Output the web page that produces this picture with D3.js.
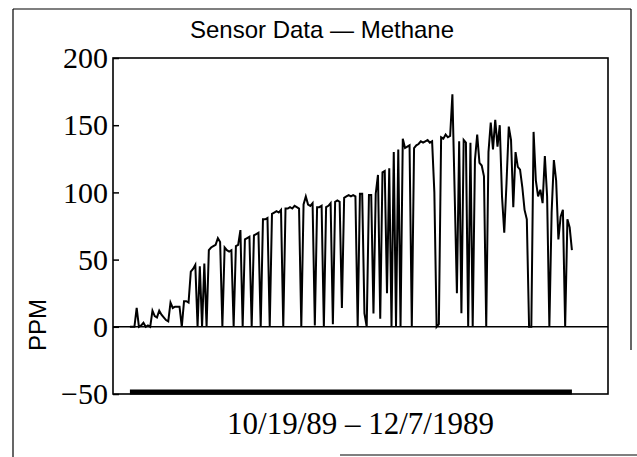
<!DOCTYPE html>
<html>
<head>
<meta charset="utf-8">
<script src="https://cdn.jsdelivr.net/npm/d3@7"></script>
<style>
  html, body { margin: 0; padding: 0; background: #fff; }
  svg { display: block; }
</style>
</head>
<body>
<svg id="chart"></svg>
<script>
// methane readings, one every 6 hours from 10/19/89 to 12/7/89 (0 = dropout)
const startDate = new Date(1989, 9, 19);
const stepHours = 6;
const ppm = [
  0, 0, 0, 14, 0, 1, 3, 0, 1, 0,
  12, 8, 7, 12, 9, 7, 5, 4, 18, 14,
  15, 15, 15, 0, 19, 19, 18, 41, 43, 46,
  0, 45, 0, 47, 0, 57, 59, 60, 61, 66,
  63, 0, 59, 57, 56, 57, 0, 60, 61, 72,
  0, 65, 66, 67, 0, 68, 69, 70, 0, 80,
  80, 81, 0, 84, 85, 86, 85, 87, 0, 88,
  88, 89, 88, 90, 89, 88, 0, 91, 97, 91,
  90, 92, 1, 89, 89, 90, 0, 89, 90, 92,
  2, 93, 94, 93, 14, 96, 97, 98, 97, 98,
  97, 0, 99, 99, 10, 0, 98, 98, 10, 99,
  113, 6, 115, 116, 25, 118, 0, 130, 0, 132,
  0, 140, 133, 134, 135, 0, 133, 135, 136, 138,
  137, 138, 139, 137, 138, 100, 0, 2, 141, 140,
  143, 141, 142, 173, 100, 25, 138, 10, 139, 137,
  0, 137, 0, 124, 143, 122, 120, 112, 0, 130,
  152, 132, 154, 134, 150, 97, 70, 107, 149, 139,
  89, 130, 119, 117, 104, 87, 80, 0, 0, 145,
  109, 97, 102, 92, 127, 97, 0, 85, 124, 109,
  65, 82, 87, 0, 80, 74, 57
];
const data = ppm.map((v, i) => ({ date: d3.timeHour.offset(startDate, i * stepHours), value: v }));

const xDomain = [new Date(1989, 9, 17, 3), new Date(1989, 11, 11)];
const yDomain = [-50, 200];
const yTicks = [-50, 0, 50, 100, 150, 200];
const barValue = -48.5;   // solid bar along the bottom showing the sampled period

const title = "Sensor Data \u2014 Methane";
const yLabel = "PPM";
const xLabel = "10/19/89 \u2013 12/7/1989";

const W = 637, H = 457;
const margin = { top: 58, right: 29, bottom: 63, left: 113 };
const width = W - margin.left - margin.right;
const height = H - margin.top - margin.bottom;

const serif = "'Liberation Serif', 'Times New Roman', serif";
const sans = "'Liberation Sans', Arial, Helvetica, sans-serif";

const svg = d3.select("#chart").attr("width", W).attr("height", H);

// scanned page frame (only partly visible in the original)
const frame = svg.append("g").attr("stroke", "#000").attr("stroke-width", 1.2).attr("fill", "none");
frame.append("line").attr("x1", 13).attr("x2", 13).attr("y1", 9).attr("y2", H);
frame.append("line").attr("x1", 13).attr("x2", 631).attr("y1", 9).attr("y2", 9);
frame.append("line").attr("x1", 631).attr("x2", 631).attr("y1", 9).attr("y2", 350);
frame.append("line").attr("x1", 340).attr("x2", W).attr("y1", 455).attr("y2", 455);

svg.append("text")
  .attr("x", 322).attr("y", 38)
  .attr("text-anchor", "middle")
  .attr("font-family", sans).attr("font-size", 24)
  .text(title);

const g = svg.append("g").attr("transform", `translate(${margin.left},${margin.top})`);

const x = d3.scaleTime().domain(xDomain).range([0, width]);
const y = d3.scaleLinear().domain(yDomain).range([height, 0]);

// plot box
g.append("rect")
  .attr("width", width).attr("height", height)
  .attr("fill", "none").attr("stroke", "#000").attr("stroke-width", 1.6);

// y axis, ticks pointing inward
const yAxis = g.append("g")
  .call(d3.axisLeft(y).tickValues(yTicks).tickSize(-6).tickPadding(5));
yAxis.select(".domain").remove();
yAxis.selectAll(".tick line").attr("stroke", "#000").attr("stroke-width", 1.5);
yAxis.selectAll(".tick text")
  .attr("font-family", serif).attr("font-size", 30).attr("fill", "#000");

// zero line
g.append("line")
  .attr("x1", 0).attr("x2", width)
  .attr("y1", y(0)).attr("y2", y(0))
  .attr("stroke", "#000").attr("stroke-width", 1.6);

// bar along the bottom covering the record period
g.append("line")
  .attr("x1", x(data[0].date)).attr("x2", x(data[data.length - 1].date))
  .attr("y1", y(barValue)).attr("y2", y(barValue))
  .attr("stroke", "#000").attr("stroke-width", 5);

const valueLine = d3.line()
  .x(d => x(d.date))
  .y(d => y(d.value));

g.append("path")
  .datum(data)
  .attr("fill", "none")
  .attr("stroke", "#000")
  .attr("stroke-width", 2)
  .attr("d", valueLine);

svg.append("text")
  .attr("transform", "translate(46,325) rotate(-90)")
  .attr("text-anchor", "middle")
  .attr("font-family", sans).attr("font-size", 24)
  .text(yLabel);

svg.append("text")
  .attr("x", margin.left + width / 2).attr("y", 434)
  .attr("text-anchor", "middle")
  .attr("font-family", serif).attr("font-size", 31)
  .text(xLabel);
</script>
</body>
</html>
